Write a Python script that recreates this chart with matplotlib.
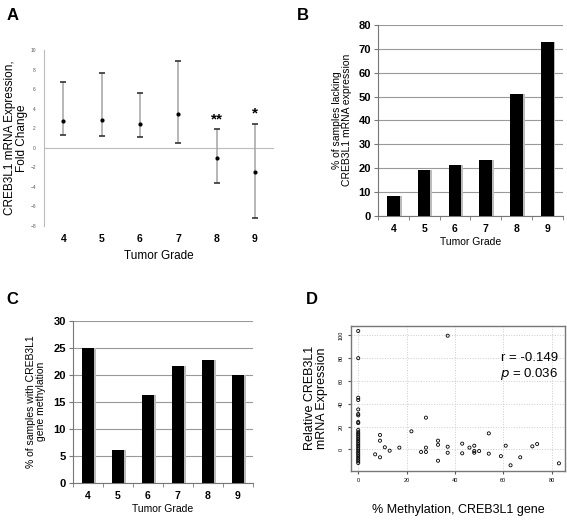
import numpy as np
import matplotlib.pyplot as plt

plt.rcParams['font.family'] = ['Liberation Sans', 'DejaVu Sans']

grades = ['4', '5', '6', '7', '8', '9']

# panel A: fold change with range
fold_mean = [2.76, 2.83, 2.46, 3.45, -1.09, -2.46]
fold_high = [6.76, 7.60, 5.56, 8.84, 1.91, 2.46]
fold_low = [1.33, 1.23, 1.09, 0.48, -3.58, -7.17]
stars = ['', '', '', '', '**', '*']

# panel B
lacking = [8.4, 19.2, 21.1, 23.4, 50.9, 73.0]

# panel C
methylated = [25.0, 6.0, 16.3, 21.7, 22.8, 20.0]

# panel D: % methylation vs relative expression
meth_x = [0] * 29 + [7, 9, 9, 9, 11, 13, 17, 22, 26, 28, 28, 28, 33, 33, 33, 37, 37, 37,
                     43, 43, 46, 48, 48, 48, 50, 54, 54, 59, 61, 63, 67, 72, 74, 83]
expr_y = [103.8, 80, 45.3, 43.3, 35, 31, 29.8, 24, 23,
          17, 15, 13.5, 12, 10.5, 9, 7.5, 6, 4.5, 3, 1.5, 0, -1.5, -3, -4.5, -6, -7.5, -9, -10.5, -12,
          -4.4, 12.6, 7.6, -7, 1.8, -1.2, 1.5, 15.8, -2.3, 27.8, 1.5, -2.3, 7.6, 4, -10, 99.7, 2.3, -3,
          5, -3.5, 1.5, 3.2, -1.5, -3, -1.5, 14, -3.8, -6, 3.2, -14, -7, 2.6, 4.7, -12.3]

fig = plt.figure(figsize=(5.67, 5.21), dpi=100)
pos = np.arange(len(grades))

# ---- A
axA = fig.add_axes([0.0781, 0.5662, 0.4051, 0.3378])
axA.vlines(pos, fold_low, fold_high, color='#aaaaaa', lw=1.2, zorder=2)
axA.plot(pos, fold_high, ls='none', marker='_', ms=5, mew=1.2, color='#333333', zorder=3)
axA.plot(pos, fold_low, ls='none', marker='_', ms=5, mew=1.2, color='#333333', zorder=3)
axA.plot(pos, fold_mean, ls='none', marker='o', ms=2, color='black', zorder=4)
axA.axhline(0, color='#bbbbbb', lw=0.8, zorder=1)
for i, s in enumerate(stars):
    if s:
        axA.text(pos[i], fold_high[i] + 0.3, s, ha='center', va='bottom', fontsize=11, fontweight='bold')
axA.set_xlim(-0.5, 5.5)
axA.set_ylim(-8, 10)
axA.set_yticks(range(-8, 11, 2))
axA.set_xticks(pos)
axA.set_xticklabels(grades, fontsize=7.5, fontweight='bold')
axA.tick_params(axis='y', labelsize=3.5, length=0, colors='#555555', pad=6)
axA.tick_params(axis='x', length=0, pad=6)
for sp in ['top', 'right', 'bottom']:
    axA.spines[sp].set_visible(False)
axA.spines['left'].set_color('#bbbbbb')
axA.set_xlabel('Tumor Grade', fontsize=8.5)
axA.set_ylabel('CREB3L1 mRNA Expression,\nFold Change', fontsize=8.5, labelpad=2, linespacing=1.0)

# ---- bar panels
def bar_panel(rect, vals, top, step, ylabel):
    ax = fig.add_axes(rect)
    ax.bar(pos + 0.06, vals, width=0.41, color='#bbbbbb', zorder=2)
    ax.bar(pos, vals, width=0.41, color='black', zorder=3)
    ax.set_xlim(-0.5, 5.5)
    ax.set_ylim(0, top)
    ax.set_yticks(np.arange(0, top + 1, step))
    ax.yaxis.grid(True, color='#999999', lw=0.8, zorder=0)
    ax.set_axisbelow(True)
    ax.set_xticks(pos)
    ax.set_xticklabels(grades, fontsize=7.5, fontweight='bold')
    ax.set_xticks(np.arange(-0.5, 5.6, 1), minor=True)
    ax.tick_params(axis='x', which='major', length=0, pad=6)
    ax.tick_params(axis='x', which='minor', length=3, color='#777777')
    ax.tick_params(axis='y', length=3, color='#777777', labelsize=8, pad=2)
    for lab in ax.get_yticklabels():
        lab.set_fontweight('bold')
    for sp in ['top', 'right']:
        ax.spines[sp].set_visible(False)
    ax.spines['left'].set_color('#777777')
    ax.spines['bottom'].set_color('#777777')
    ax.set_xlabel('Tumor Grade', fontsize=7.5, labelpad=2)
    ax.set_ylabel(ylabel, fontsize=7.5, labelpad=5, linespacing=1.0)
    return ax

bar_panel([0.6667, 0.586, 0.3257, 0.366], lacking, 80, 10,
          '% of samples lacking\nCREB3L1 mRNA expression')
bar_panel([0.1282, 0.0735, 0.3175, 0.311], methylated, 30, 5,
          '% of samples with CREB3L1\ngene methylation')

# ---- D
axD = fig.add_axes([0.619, 0.096, 0.3774, 0.2789])
axD.scatter(meth_x, expr_y, s=5, facecolors='none', edgecolors='black', linewidths=0.6, zorder=3)
axD.set_xlim(-3, 85.5)
axD.set_ylim(-19, 108.5)
axD.set_xticks(range(0, 81, 20))
axD.set_yticks(range(0, 101, 20))
axD.grid(True, ls=':', color='#cccccc', lw=0.7, zorder=0)
axD.tick_params(labelsize=4, length=2, color='#555555', pad=3)
for lab in axD.get_yticklabels():
    lab.set_rotation(90)
    lab.set_va('center')
for sp in axD.spines.values():
    sp.set_color('#777777')
    sp.set_linewidth(1.0)
axD.text(0.97, 0.76, 'r = -0.149', transform=axD.transAxes, ha='right', fontsize=9.5)
axD.text(0.97, 0.645, '$\\it{p}$ = 0.036', transform=axD.transAxes, ha='right', fontsize=9.5)
axD.set_xlabel('% Methylation, CREB3L1 gene', fontsize=9, labelpad=15)
axD.set_ylabel('Relative CREB3L1\nmRNA Expression', fontsize=9, labelpad=8, linespacing=1.0)

# panel letters
for letter, x, y in [('A', 0.012, 0.985), ('B', 0.523, 0.985), ('C', 0.012, 0.44), ('D', 0.54, 0.44)]:
    fig.text(x, y, letter, fontsize=12, fontweight='bold', va='top')

fig.savefig('out.png', dpi=100)
